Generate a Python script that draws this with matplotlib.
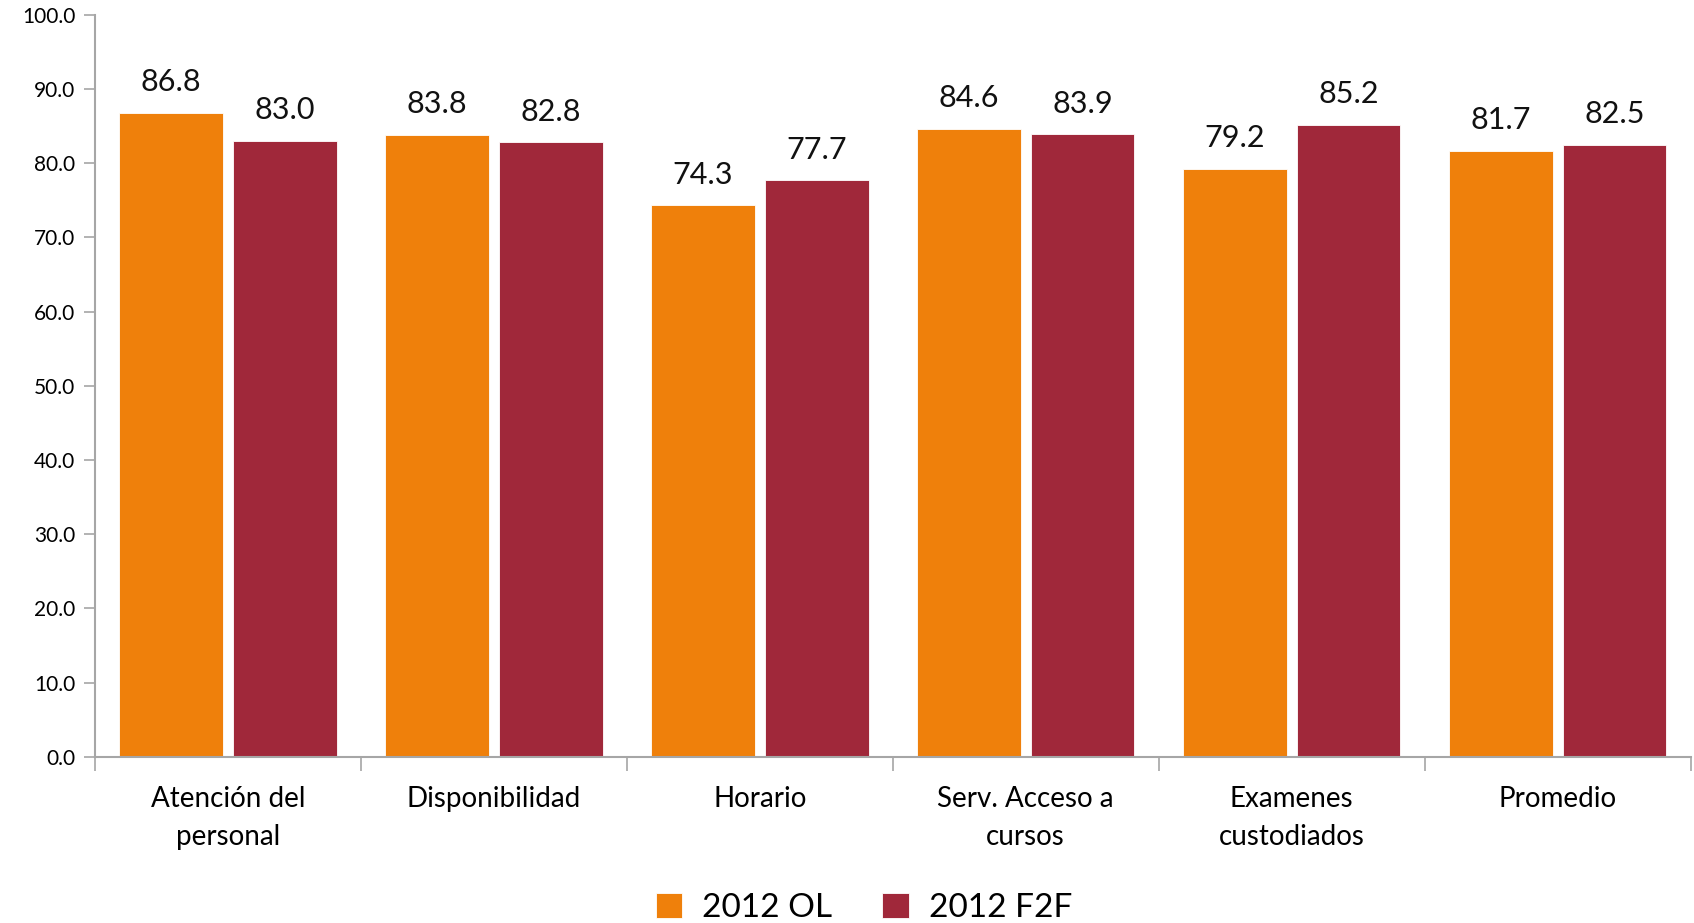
import numpy as np
import matplotlib.pyplot as plt
from matplotlib.ticker import FixedLocator, FormatStrFormatter

plt.rcParams['font.family'] = ['Lato', 'DejaVu Sans']

categories = ["Atención del\npersonal", "Disponibilidad", "Horario",
              "Serv. Acceso a\ncursos", "Examenes\ncustodiados", "Promedio"]
ol_2012 = [86.8, 83.8, 74.3, 84.6, 79.2, 81.7]
f2f_2012 = [83.0, 82.8, 77.7, 83.9, 85.2, 82.5]
series_names = ["2012 OL", "2012 F2F"]

ORANGE = "#EF800B"
RED = "#A0283A"
AXIS_GRAY = "#A6A6A6"

fig = plt.figure(figsize=(16.94, 9.23), dpi=100)
ax = fig.add_axes([0.056, 0.180, 0.942, 0.804])

x = np.arange(len(categories))
width = 0.39
off = 0.214

b1 = ax.bar(x - off, ol_2012, width, color=ORANGE, edgecolor="white",
            linewidth=0.6, label=series_names[0])
b2 = ax.bar(x + off, f2f_2012, width, color=RED, edgecolor="white",
            linewidth=0.6, label=series_names[1])

for bars in (b1, b2):
    for rect in bars:
        h = rect.get_height()
        ax.annotate(f"{h:.1f}", (rect.get_x() + rect.get_width() / 2, h),
                    xytext=(0, 12), textcoords="offset points",
                    ha="center", va="bottom", fontsize=22, color="#111111")

ax.set_xlim(-0.5, len(categories) - 0.5)
ax.set_ylim(0, 100)
ax.yaxis.set_major_locator(FixedLocator(np.arange(0, 101, 10)))
ax.yaxis.set_major_formatter(FormatStrFormatter("%.1f"))
ax.tick_params(axis="y", direction="out", length=8, width=1.2,
               color=AXIS_GRAY, labelsize=15, pad=6)

# category labels centred, tick marks on the group boundaries
ax.set_xticks(x)
ax.set_xticklabels(categories, fontsize=20, linespacing=1.55)
ax.tick_params(axis="x", which="major", length=0, pad=21)
ax.set_xticks(np.arange(-0.5, len(categories)), minor=True)
ax.tick_params(axis="x", which="minor", direction="out", length=10,
               width=1.2, color=AXIS_GRAY)

for side in ("top", "right"):
    ax.spines[side].set_visible(False)
for side in ("left", "bottom"):
    ax.spines[side].set_color(AXIS_GRAY)
    ax.spines[side].set_linewidth(1.5)

fig.legend(handles=[b1, b2], labels=series_names, loc="lower center",
           bbox_to_anchor=(0.51, -0.022), ncol=2, frameon=False,
           fontsize=24, handlelength=0.8, handleheight=0.8, borderpad=0.1,
           handletextpad=0.6, columnspacing=1.5)

fig.savefig("out.png", dpi=100)
